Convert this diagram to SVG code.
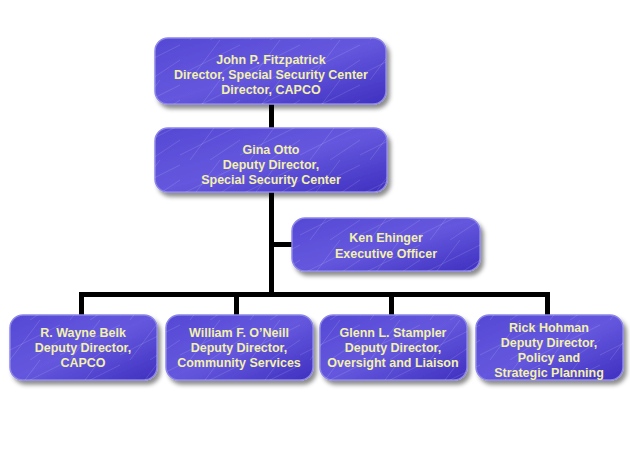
<svg xmlns="http://www.w3.org/2000/svg" width="630" height="450" viewBox="0 0 630 450">
<defs>
<linearGradient id="g" x1="0" y1="0" x2="1" y2="1">
<stop offset="0" stop-color="#5548d4"/>
<stop offset="0.5" stop-color="#6558de"/>
<stop offset="1" stop-color="#3f30c0"/>
</linearGradient>
<pattern id="tex" width="60" height="40" patternUnits="userSpaceOnUse">
<path d="M0 35 L60 5 M10 40 L40 0 M30 40 L60 20" stroke="#ffffff" stroke-opacity="0.12" stroke-width="1" fill="none"/>
</pattern>
<filter id="sh" x="-10%" y="-10%" width="125%" height="135%">
<feDropShadow dx="3" dy="4" stdDeviation="2" flood-color="#000" flood-opacity="0.45"/>
</filter>
</defs>
<style>
.box{fill:url(#g);stroke:#8c86e8;stroke-width:1.5;filter:url(#sh)}
.tx{fill:url(#tex)}
text{font-family:"Liberation Sans",Arial,sans-serif;font-weight:bold;font-size:12.5px;fill:#f2f0ac;text-anchor:middle}
.ln{fill:#000}
</style>
<rect width="630" height="450" fill="#fff"/>
<g id="connectors">
<rect class="ln" x="269" y="104" width="5" height="25"/>
<rect class="ln" x="269" y="192" width="5" height="103"/>
<rect class="ln" x="272" y="242" width="21" height="5"/>
<rect class="ln" x="79" y="292" width="471" height="5"/>
<rect class="ln" x="79" y="292" width="5" height="24"/>
<rect class="ln" x="234" y="292" width="5" height="24"/>
<rect class="ln" x="389" y="292" width="5" height="24"/>
<rect class="ln" x="545" y="292" width="5" height="24"/>
</g>
<g id="n1">
<rect class="box" x="155" y="38" width="231" height="66" rx="13"/>
<rect class="tx" x="155" y="38" width="231" height="66" rx="13"/>
<text x="271" y="64">John P. Fitzpatrick</text>
<text x="271" y="79">Director, Special Security Center</text>
<text x="271" y="94">Director, CAPCO</text>
</g>
<g id="n2">
<rect class="box" x="155" y="128" width="232" height="64" rx="13"/>
<rect class="tx" x="155" y="128" width="232" height="64" rx="13"/>
<text x="271" y="154">Gina Otto</text>
<text x="271" y="169">Deputy Director,</text>
<text x="271" y="184">Special Security Center</text>
</g>
<g id="n3">
<rect class="box" x="292" y="218" width="188" height="53" rx="13"/>
<rect class="tx" x="292" y="218" width="188" height="53" rx="13"/>
<text x="386" y="242">Ken Ehinger</text>
<text x="386" y="258">Executive Officer</text>
</g>
<g id="n4">
<rect class="box" x="10" y="315" width="147" height="65" rx="13"/>
<rect class="tx" x="10" y="315" width="147" height="65" rx="13"/>
<text x="83" y="337">R. Wayne Belk</text>
<text x="83" y="352">Deputy Director,</text>
<text x="83" y="367">CAPCO</text>
</g>
<g id="n5">
<rect class="box" x="166" y="315" width="147" height="65" rx="13"/>
<rect class="tx" x="166" y="315" width="147" height="65" rx="13"/>
<text x="239" y="337">William F. O’Neill</text>
<text x="239" y="352">Deputy Director,</text>
<text x="239" y="367">Community Services</text>
</g>
<g id="n6">
<rect class="box" x="320" y="315" width="147" height="65" rx="13"/>
<rect class="tx" x="320" y="315" width="147" height="65" rx="13"/>
<text x="393" y="337">Glenn L. Stampler</text>
<text x="393" y="352">Deputy Director,</text>
<text x="393" y="367">Oversight and Liaison</text>
</g>
<g id="n7">
<rect class="box" x="476" y="315" width="147" height="65" rx="13"/>
<rect class="tx" x="476" y="315" width="147" height="65" rx="13"/>
<text x="549" y="332">Rick Hohman</text>
<text x="549" y="347">Deputy Director,</text>
<text x="549" y="362">Policy and</text>
<text x="549" y="377">Strategic Planning</text>
</g>
</svg>
